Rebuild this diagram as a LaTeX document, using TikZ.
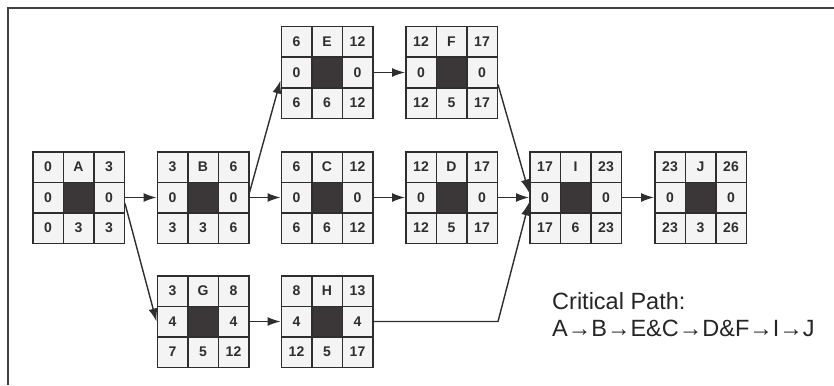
\documentclass[tikz,border=0pt]{standalone}
\usepackage{fontspec}
\setmainfont{Liberation Sans}
\usetikzlibrary{matrix,arrows.meta}
\definecolor{linha}{HTML}{2E2E2E}
\definecolor{miolo}{HTML}{3B3739}
\definecolor{celula}{HTML}{F4F4F4}

\begin{document}
\begin{tikzpicture}[x=1pt,y=-1pt,
    atividade/.style={matrix of nodes, nodes in empty cells,
        column sep=-1.5pt, row sep=-1.5pt,
        nodes={draw=linha, line width=1.5pt, fill=celula, anchor=center,
               minimum size=30.5pt, inner sep=0pt, text=linha,
               font=\fontsize{14}{16}\selectfont\bfseries},
        row 2 column 2/.style={nodes={fill=miolo}}},
    seta/.style={line width=1.4pt, draw=linha,
        -{Latex[length=13pt,width=9pt]}}]

    % fundo e moldura
    \fill[white] (0,0) rectangle (834,385);
    \useasboundingbox (0,0) rectangle (834,385);
    \draw[line width=1.5pt, draw=black!75] (834,8) -- (8,8) -- (8,385);

    % atividades
    \matrix (A) [atividade] at (78.5,197.5) {0 & A & 3\\ 0 & & 0\\ 0 & 3 & 3\\};
    \matrix (B) [atividade] at (203,197.5) {3 & B & 6\\ 0 & & 0\\ 3 & 3 & 6\\};
    \matrix (E) [atividade] at (327,72.5) {6 & E & 12\\ 0 & & 0\\ 6 & 6 & 12\\};
    \matrix (F) [atividade] at (451.5,72.5) {12 & F & 17\\ 0 & & 0\\ 12 & 5 & 17\\};
    \matrix (C) [atividade] at (327,197.5) {6 & C & 12\\ 0 & & 0\\ 6 & 6 & 12\\};
    \matrix (D) [atividade] at (451.5,197.5) {12 & D & 17\\ 0 & & 0\\ 12 & 5 & 17\\};
    \matrix (I) [atividade] at (575.5,197.5) {17 & I & 23\\ 0 & & 0\\ 17 & 6 & 23\\};
    \matrix (J) [atividade] at (700.5,197.5) {23 & J & 26\\ 0 & & 0\\ 23 & 3 & 26\\};
    \matrix (G) [atividade] at (203,321.5) {3 & G & 8\\ 4 & & 4\\ 7 & 5 & 12\\};
    \matrix (H) [atividade] at (327,321.5) {8 & H & 13\\ 4 & & 4\\ 12 & 5 & 17\\};

    % ligacoes
    \draw[seta] (A-2-3.east) -- (B-2-1.west);
    \draw[seta] ([yshift=-6pt]A-2-3.east) -- (G-2-1.west);
    \draw[seta] ([yshift=5pt]B-2-3.east) -- ([yshift=-8pt]E-2-1.west);
    \draw[seta] (B-2-3.east) -- (C-2-1.west);
    \draw[seta] (E-2-3.east) -- (F-2-1.west);
    \draw[seta] ([yshift=-12pt]F-2-3.east) -- ([yshift=5pt]I-2-1.west);
    \draw[seta] (C-2-3.east) -- (D-2-1.west);
    \draw[seta] (D-2-3.east) -- (I-2-1.west);
    \draw[seta] (I-2-3.east) -- (J-2-1.west);
    \draw[seta] (G-2-3.east) -- (H-2-1.west);
    \coordinate (dobra) at (498,321.5);
    \draw[seta] (H-2-3.east) -- (dobra) -- ([yshift=-5pt]I-2-1.west);

    % caminho critico
    \node[anchor=north west, inner sep=0pt, align=left, text=black!85,
          font=\fontsize{23.5}{27}\selectfont] (caminho) at (552,292)
        {Critical Path:\\A→B→E\&C→D\&F→I→J};
\end{tikzpicture}
\end{document}
